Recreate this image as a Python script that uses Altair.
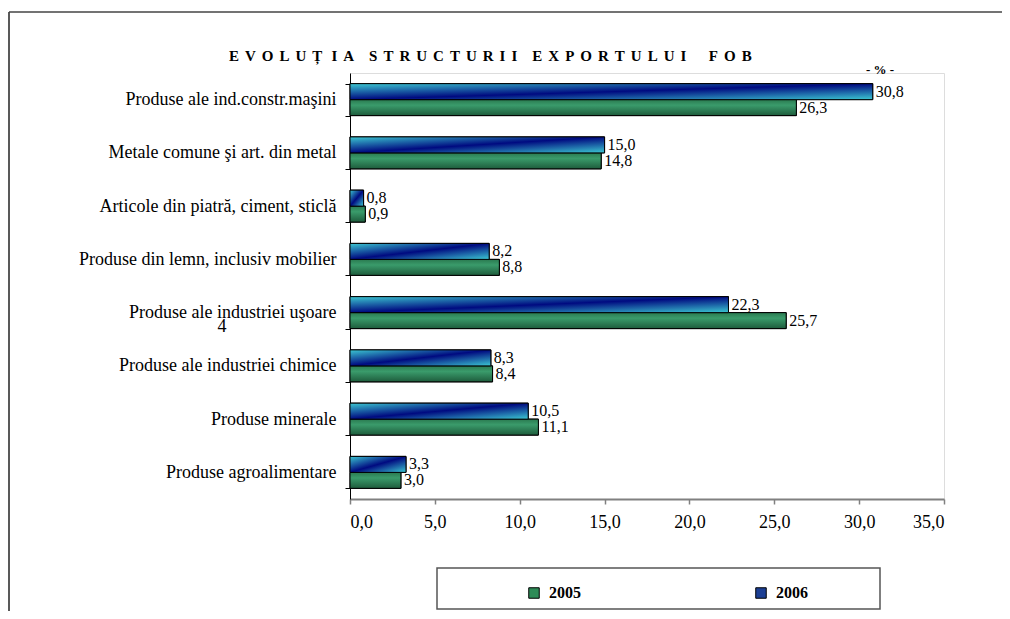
import altair as alt
import pandas as pd

categories = [
    "Produse ale ind.constr.maşini",
    "Metale comune şi art. din metal",
    "Articole din piatră, ciment, sticlă",
    "Produse din lemn, inclusiv mobilier",
    "Produse ale industriei uşoare",
    "Produse ale industriei chimice",
    "Produse minerale",
    "Produse agroalimentare",
]
years = ["2005", "2006"]
values_2005 = [26.3, 14.8, 0.9, 8.8, 25.7, 8.4, 11.1, 3.0]
values_2006 = [30.8, 15.0, 0.8, 8.2, 22.3, 8.3, 10.5, 3.3]
x_ticks = [0, 5, 10, 15, 20, 25, 30, 35]

title_words = ["EVOLUȚ", "IA", "STRUCTURII", "EXPORTULUI", "FOB"]
unit_text = ["- % -"]
stray_text = ["4"]

rows = []
for c, a, b in zip(categories, values_2005, values_2006):
    rows.append({"cat": c, "year": "2005", "v": a})
    rows.append({"cat": c, "year": "2006", "v": b})
df = pd.DataFrame(rows)

FONT = "'Liberation Serif', 'Times New Roman', serif"
LG = "\u2009\u2009"
title_str = ("\u2009\u2009\u2009").join([LG.join(list(w)) for w in title_words[:2]])
title_str = (title_str + "\u2002\u2002"
             + "\u2002\u2002".join([LG.join(list(w)) for w in title_words[2:4]])
             + "\u2002\u2002\u2002" + LG.join(list(title_words[4])))

y_enc = alt.Y(
    "cat:N", sort=categories,
    scale=alt.Scale(paddingInner=0.4, paddingOuter=0.2),
    axis=alt.Axis(title=None, tickBand="extent", labelFont=FONT, labelFontSize=18,
                  labelColor="black", labelPadding=9, tickSize=5, tickColor="black",
                  domainColor="black", labelLimit=400),
)
yoff = alt.YOffset("year:N", sort=["2006", "2005"],
                   scale=alt.Scale(domain=["2006", "2005"], paddingInner=0, paddingOuter=0))
x_enc = alt.X(
    "v:Q", scale=alt.Scale(domain=[0, 35], nice=False),
    axis=alt.Axis(values=x_ticks, title=None, grid=False,
                  labelExpr="replace(format(datum.value, '.1f'), '.', ',')",
                  domainColor="#808080", domainWidth=2, tickColor="#808080", tickWidth=1.5,
                  tickSize=5, labelFont=FONT, labelFontSize=18, labelPadding=9, labelColor="black"),
)

grad06 = alt.LinearGradient(
    gradient="linear",
    stops=[alt.GradientStop(color="#3cc8d2", offset=0),
           alt.GradientStop(color="#000a80", offset=0.5),
           alt.GradientStop(color="#3cc8d2", offset=1)],
    x1=0, y1=0, x2=1, y2=1,
)
grad05 = alt.LinearGradient(
    gradient="linear",
    stops=[alt.GradientStop(color="#2a7a50", offset=0),
           alt.GradientStop(color="#3a9b6b", offset=0.35),
           alt.GradientStop(color="#1e5c3c", offset=1)],
    x1=0, y1=0, x2=0, y2=1,
)

base = alt.Chart(df)

legend_layer = base.mark_bar(stroke="black", strokeWidth=1).encode(
    y=y_enc, yOffset=yoff, x=x_enc,
    color=alt.Color("year:N", scale=alt.Scale(domain=years, range=["#2e8b57", "#1c3f94"]),
                    legend=alt.Legend(title=None, orient="none", legendX=176, legendY=512,
                                      direction="horizontal", columns=2, symbolType="square",
                                      symbolSize=110, symbolStrokeColor="black", symbolStrokeWidth=1,
                                      labelFont=FONT, labelFontSize=16, labelFontWeight="bold",
                                      labelColor="black", padding=0,
                                      columnPadding=172, labelOffset=7)),
)

bars05 = base.transform_filter("datum.year == '2005'").mark_bar(
    color=grad05, stroke="black", strokeWidth=1).encode(y=y_enc, yOffset=yoff, x=x_enc)
bars06 = base.transform_filter("datum.year == '2006'").mark_bar(
    color=grad06, stroke="black", strokeWidth=1).encode(y=y_enc, yOffset=yoff, x=x_enc)

labels = base.transform_calculate(
    lbl="replace(format(datum.v, '.1f'), '.', ',')"
).mark_text(align="left", baseline="middle", dx=3, font=FONT, fontSize=16, color="black").encode(
    y=y_enc, yOffset=yoff, x=x_enc, text="lbl:N")

title = alt.Chart(pd.DataFrame({"t": [title_str]})).mark_text(
    align="left", baseline="alphabetic", font=FONT, fontSize=15, fontWeight="bold", color="black"
).encode(text="t:N", x=alt.value(-121), y=alt.value(-12))

unit = alt.Chart(pd.DataFrame({"t": unit_text})).mark_text(
    align="center", baseline="alphabetic", font=FONT, fontSize=13, fontWeight="bold", color="black"
).encode(text="t:N", x=alt.value(530), y=alt.value(1))

stray = alt.Chart(pd.DataFrame({"t": stray_text})).mark_text(
    align="center", baseline="middle", font=FONT, fontSize=18, color="black"
).encode(text="t:N", x=alt.value(-128), y=alt.value(254))

legend_box = alt.Chart(pd.DataFrame({"t": [0]})).mark_rect(
    filled=False, stroke="#555555", strokeWidth=1.5).encode(
    x=alt.value(87), x2=alt.value(530), y=alt.value(495), y2=alt.value(536))

frame_left = alt.Chart(pd.DataFrame({"t": [0]})).mark_rule(color="#222222", strokeWidth=1.5).encode(
    x=alt.value(-341), y=alt.value(-61), y2=alt.value(560))
frame_top = alt.Chart(pd.DataFrame({"t": [0]})).mark_rule(color="#444444", strokeWidth=1.5).encode(
    x=alt.value(-341), x2=alt.value(700), y=alt.value(-61))

chart = alt.layer(
    legend_layer, bars05, bars06, labels, title, unit, stray, legend_box, frame_left, frame_top
).properties(
    width=594, height=426, autosize="none",
    padding={"left": 342, "top": 65, "right": 58, "bottom": 112},
).configure_view(stroke=None).configure(background="white")

chart.save("out.html", embed_options={"renderer": "svg", "actions": False})
